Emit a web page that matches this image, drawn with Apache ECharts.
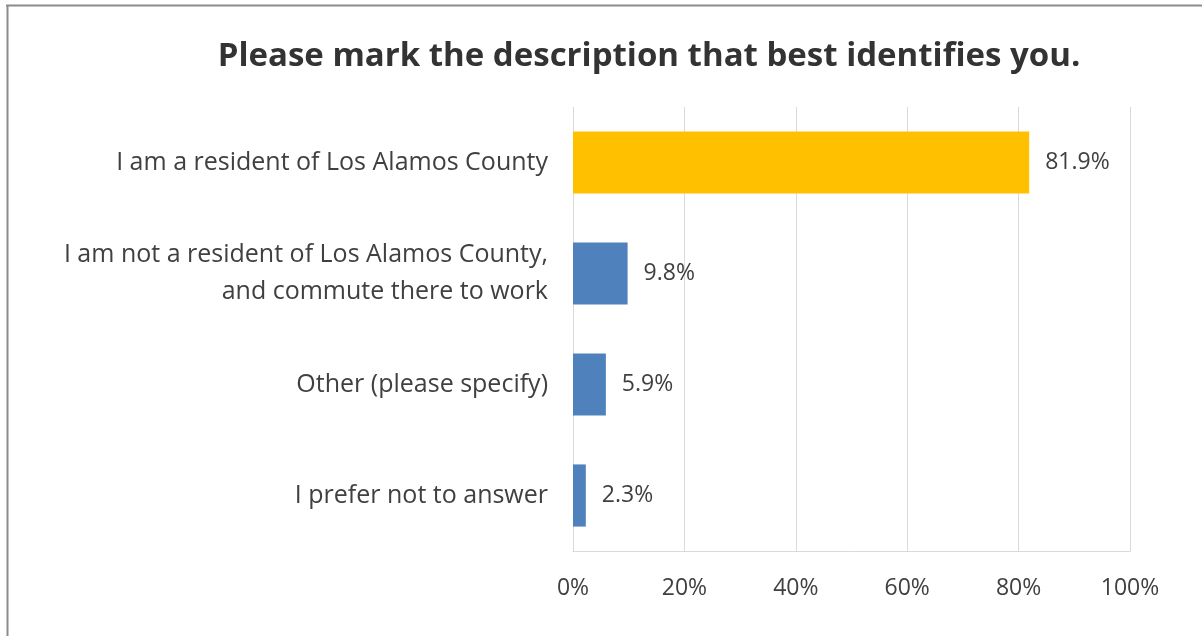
<!DOCTYPE html>
<html>
<head>
<meta charset="utf-8">
<script src="https://cdn.jsdelivr.net/npm/echarts@6/dist/echarts.min.js"></script>
<style>
  html, body { margin: 0; padding: 0; background: #fff; }
  #chart { width: 1202px; height: 636px; }
</style>
</head>
<body>
<div id="chart"></div>
<script>
// Survey responses: "Please mark the description that best identifies you."
const categories = [
  'I am a resident of Los Alamos County',
  'I am not a resident of Los Alamos County,\nand commute there to work',
  'Other (please specify)',
  'I prefer not to answer'
];
const shares = [81.9, 9.8, 5.9, 2.3];
const barColors = ['#FFC000', '#4F81BD', '#4F81BD', '#4F81BD'];
const tickValues = [0, 20, 40, 60, 80, 100];

const FONT = '"Open Sans", Lato, sans-serif';
const TEXT = '#404040';

const chart = echarts.init(document.getElementById('chart'), null, { renderer: 'canvas' });

chart.setOption({
  backgroundColor: '#ffffff',
  animation: false,
  title: {
    text: 'Please mark the description that best identifies you.',
    left: 644,
    textAlign: 'center',
    top: 35,
    textStyle: { fontFamily: FONT, fontWeight: 'bold', fontSize: 33, color: '#333333' }
  },
  graphic: [
    { type: 'line', shape: { x1: 6, y1: 5.5, x2: 1202, y2: 5.5 }, style: { stroke: '#8c8c8c', lineWidth: 2 } },
    { type: 'line', shape: { x1: 7.5, y1: 5, x2: 7.5, y2: 636 }, style: { stroke: '#8c8c8c', lineWidth: 2 } }
  ],
  grid: { left: 573, right: 72, top: 107, bottom: 85, containLabel: false },
  xAxis: {
    type: 'value',
    min: tickValues[0],
    max: tickValues[tickValues.length - 1],
    interval: 20,
    axisLine: { show: true, lineStyle: { color: '#D9D9D9', width: 1 } },
    axisTick: { show: false },
    splitLine: { show: true, lineStyle: { color: '#D9D9D9', width: 1 } },
    axisLabel: {
      margin: 26,
      fontFamily: FONT, fontSize: 23, color: TEXT,
      formatter: v => v + '%'
    }
  },
  yAxis: {
    type: 'category',
    data: categories,
    inverse: true,
    axisLine: { show: false },
    axisTick: { show: false },
    axisLabel: {
      margin: 25,
      fontFamily: FONT, fontSize: 25, color: TEXT,
      lineHeight: 37, align: 'right'
    }
  },
  series: [{
    type: 'bar',
    barCategoryGap: '44%',
    data: shares.map((v, i) => ({ value: v, itemStyle: { color: barColors[i] } })),
    label: {
      show: true,
      position: 'right',
      distance: 16,
      fontFamily: FONT, fontSize: 23, color: TEXT,
      formatter: p => p.value.toFixed(1) + '%'
    }
  }]
});
</script>
</body>
</html>
